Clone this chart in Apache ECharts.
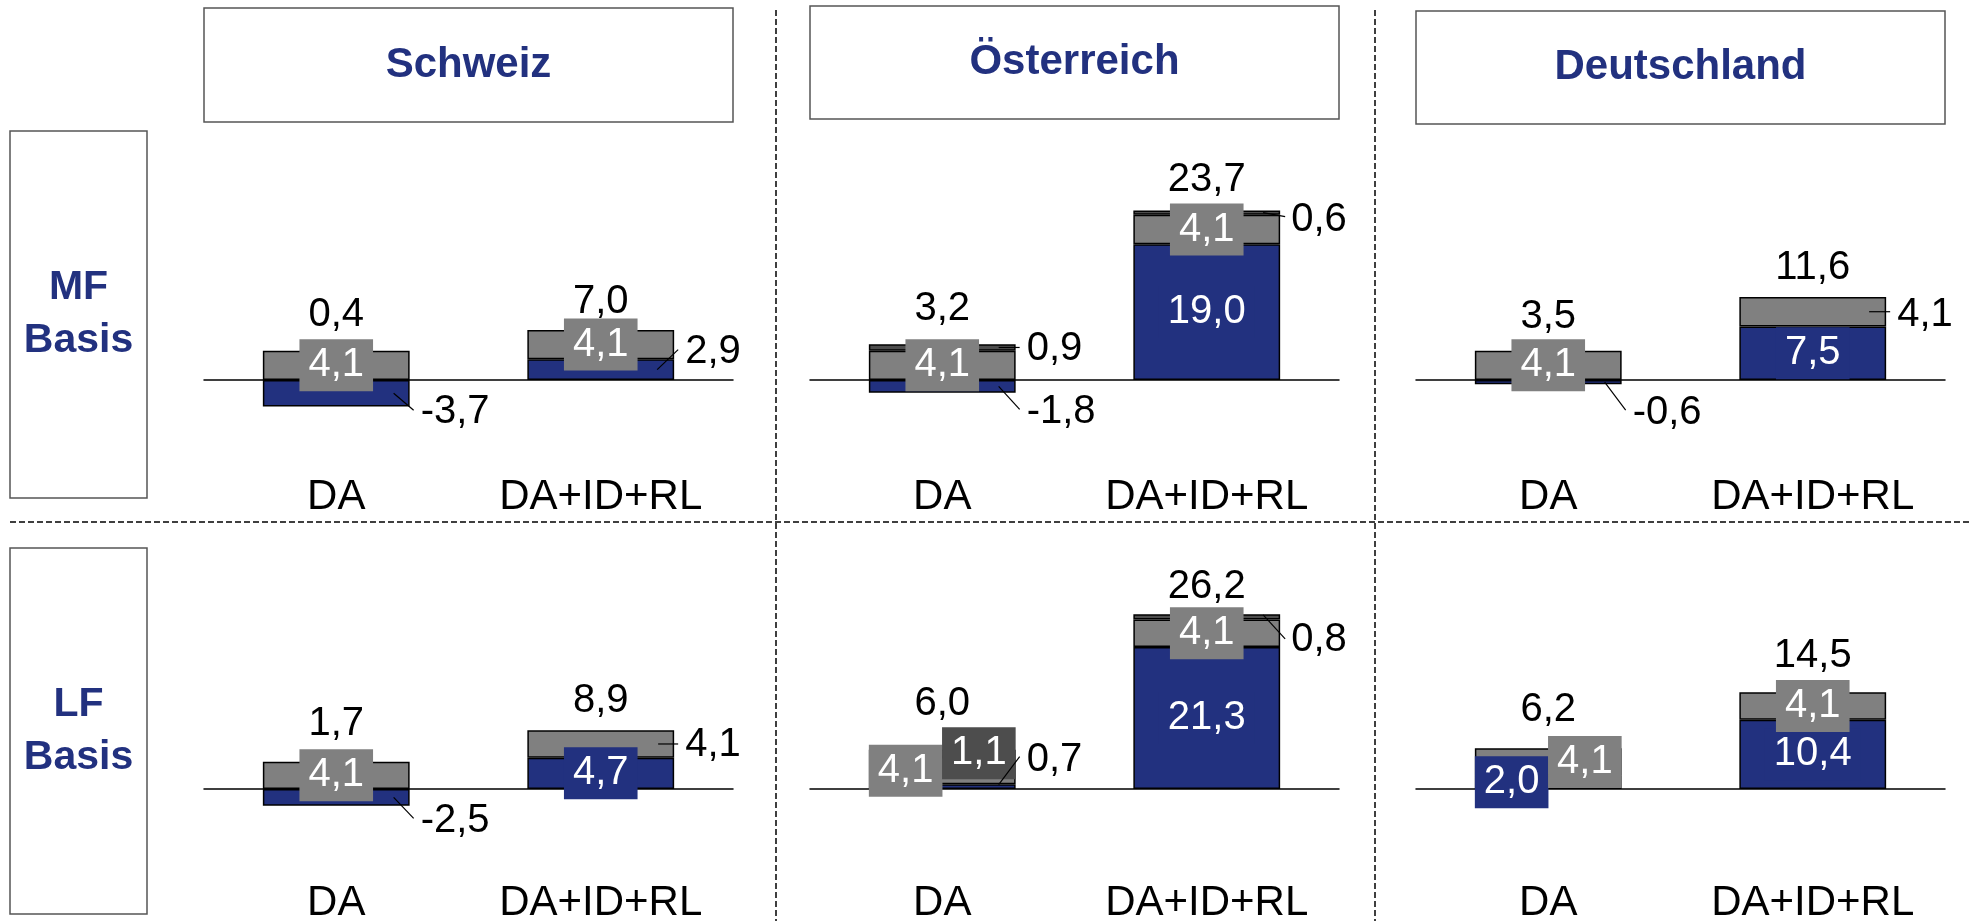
<!DOCTYPE html>
<html><head><meta charset="utf-8">
<script src="https://cdn.jsdelivr.net/npm/echarts@6/dist/echarts.min.js"></script>
<style>html,body{margin:0;padding:0;background:#fff}#c{width:1970px;height:921px}</style>
</head><body><div id="c"></div>
<script>
// ---------- data ----------
const categories = ['DA', 'DA+ID+RL'];
const countries = ['Schweiz', 'Österreich', 'Deutschland'];
const rowLabels = ['MF\nBasis', 'LF\nBasis'];
// panel order: MF Schweiz, MF Österreich, MF Deutschland, LF Schweiz, LF Österreich, LF Deutschland
const blueValues = [[-3.7, 2.9], [-1.8, 19.0], [-0.6, 7.5], [-2.5, 4.7], [0.7, 21.3], [2.0, 10.4]];
const grayValues = [[4.1, 4.1], [4.1, 4.1], [4.1, 4.1], [4.1, 4.1], [4.1, 4.1], [4.1, 4.1]];
const darkValues = [[null, null], [0.9, 0.6], [null, null], [null, null], [1.1, 0.8], [null, null]];
const totalValues = [[0.4, 7.0], [3.2, 23.7], [3.5, 11.6], [1.7, 8.9], [6.0, 26.2], [6.2, 14.5]];

// ---------- label placement (style/layout, not data) ----------
const bluePlace = [['out', 'out'], ['out', 'in'], ['out', 'in'], ['out', 'in'], ['out', 'in'], ['inL', 'in']];
const grayPlace = [['in', 'in'], ['in', 'in'], ['in', 'out'], ['in', 'out'], ['inL', 'in'], ['inR', 'in']];
const darkPlace = [[null, null], ['out', 'out'], [null, null], [null, null], ['inR', 'out'], [null, null]];
const leaderLayout = {
  '0-blue-0': { l: [-16, 0, 4, 17], t: [11, 19] },
  '0-blue-1': { l: [-17, 0, 4, -20], t: [11, -18] },
  '1-blue-0': { l: [-17, 0, 4, 23], t: [11, 26] },
  '1-dark-0': { l: [-17, 0, 4, 0], t: [11, 2] },
  '1-dark-1': { l: [-17, 0, 5, 4], t: [11, 7] },
  '2-blue-0': { l: [-17, 0, 4, 28], t: [11, 31] },
  '2-gray-1': { l: [-17, 0, 4, 0], t: [11, 3] },
  '3-blue-0': { l: [-16, 0, 4, 21], t: [11, 24] },
  '3-gray-1': { l: [-16, 0, 4, 0], t: [11, 1] },
  '4-blue-0': { l: [-17, -2, 4, -30], t: [11, -27] },
  '4-dark-1': { l: [-17, -2, 5, 22], t: [11, 23] }
};
const totalGap = [[36, 28], [35, 31], [34, 29], [38, 29], [46, 27], [38, 36]];

const FONT = '"Liberation Sans", Arial, sans-serif';
const NUM_SIZE = 40, CAT_SIZE = 42;
const NAVY = '#22317F';
const C_BLUE = '#22317F', C_GRAY = '#808080', C_DARK = '#4D4D4D';
const colLeft = [204, 810, 1416], colWidth = 529;
const rowZeroY = [380, 789], rowPxPerUnit = [7.15, 6.67];
const Y_MIN = -10, Y_MAX = 35;
const catLabelCenterY = [497, 903];
const BAR_FRAC = 0.555;
const headerBoxes = [[204, 8, 529, 114], [810, 6, 529, 113], [1416, 11, 529, 113]];
const rowBoxes = [[10, 131, 137, 367], [10, 548, 137, 366]];

const fmt = v => v.toFixed(1).replace('.', ',');

function labelFor(pl, color) {
  if (!pl || pl === 'out') return { show: false };
  const base = {
    show: true, color: '#fff', fontSize: NUM_SIZE, fontFamily: FONT, lineHeight: 40,
    backgroundColor: color, padding: [6, 9], textBorderWidth: 0,
    formatter: p => fmt(p.value)
  };
  if (pl === 'in') return Object.assign(base, { position: 'inside' });
  if (pl === 'inL') return Object.assign(base, { position: ['0%', '50%'], align: 'left', verticalAlign: 'middle' });
  return Object.assign(base, { position: ['100%', '50%'], align: 'right', verticalAlign: 'middle' });
}

const grids = [], xAxes = [], yAxes = [], series = [];
for (let p = 0; p < 6; p++) {
  const r = Math.floor(p / 3), c = p % 3;
  const ppu = rowPxPerUnit[r];
  const gTop = rowZeroY[r] - Y_MAX * ppu, gH = (Y_MAX - Y_MIN) * ppu;
  grids.push({ left: colLeft[c], width: colWidth, top: gTop, height: gH, containLabel: false, outerBoundsMode: 'none' });
  xAxes.push({
    type: 'category', gridIndex: p, data: categories,
    axisLine: { onZero: true, lineStyle: { color: '#000', width: 1.5 } },
    axisTick: { show: false }, splitLine: { show: false },
    axisLabel: { color: '#000', fontSize: CAT_SIZE, fontFamily: FONT, lineHeight: 40,
      margin: catLabelCenterY[r] - (gTop + gH) - 20 }
  });
  yAxes.push({ type: 'value', gridIndex: p, min: Y_MIN, max: Y_MAX, show: false });

  const defs = [['blue', blueValues[p], bluePlace[p], C_BLUE], ['gray', grayValues[p], grayPlace[p], C_GRAY], ['dark', darkValues[p], darkPlace[p], C_DARK]];
  defs.forEach(([key, vals, place, color]) => {
    series.push({
      type: 'bar', name: key, xAxisIndex: p, yAxisIndex: p, stack: 's' + p, barWidth: (BAR_FRAC * 100) + '%',
      silent: true,
      itemStyle: { color: color, borderColor: '#000', borderWidth: 1.5 },
      data: vals.map((v, i) => v == null ? '-' : { value: v, label: labelFor(place[i], color) })
    });
  });

  // outside labels with leader lines
  const outs = [];
  for (let i = 0; i < 2; i++) {
    const b = blueValues[p][i], g = grayValues[p][i], d = darkValues[p][i];
    const pos = Math.max(b, 0);
    if (bluePlace[p][i] === 'out') outs.push({ v: [i, b / 2, b], key: p + '-blue-' + i });
    if (grayPlace[p][i] === 'out') outs.push({ v: [i, pos + g / 2, g], key: p + '-gray-' + i });
    if (d != null && darkPlace[p][i] === 'out') outs.push({ v: [i, pos + g + d / 2, d], key: p + '-dark-' + i });
  }
  series.push({
    type: 'custom', xAxisIndex: p, yAxisIndex: p, silent: true, z: 5,
    data: outs.map(o => o.v),
    renderItem: (params, api) => {
      const L = leaderLayout[outs[params.dataIndex].key];
      const pt = api.coord([api.value(0), api.value(1)]);
      const band = api.coord([1, 0])[0] - api.coord([0, 0])[0];
      const rx = pt[0] + band * BAR_FRAC / 2;
      return {
        type: 'group', children: [
          { type: 'line', shape: { x1: rx + L.l[0], y1: pt[1] + L.l[1], x2: rx + L.l[2], y2: pt[1] + L.l[3] }, style: { stroke: '#000', lineWidth: 1.2 } },
          { type: 'text', x: rx + L.t[0], y: pt[1] + L.t[1], style: { text: fmt(api.value(2)), fill: '#000', fontSize: NUM_SIZE, fontFamily: FONT, align: 'left', verticalAlign: 'middle' } }
        ]
      };
    }
  });

  // totals above the stack
  const tots = [0, 1].map(i => {
    const top = Math.max(blueValues[p][i], 0) + grayValues[p][i] + (darkValues[p][i] || 0);
    return [i, top, totalValues[p][i]];
  });
  series.push({
    type: 'custom', xAxisIndex: p, yAxisIndex: p, silent: true, z: 5,
    data: tots,
    renderItem: (params, api) => {
      const pt = api.coord([api.value(0), api.value(1)]);
      return { type: 'text', x: pt[0], y: pt[1] - totalGap[p][params.dataIndex],
        style: { text: fmt(api.value(2)), fill: '#000', fontSize: NUM_SIZE, fontFamily: FONT, align: 'center', verticalAlign: 'middle' } };
    }
  });
}

const graphics = [];
headerBoxes.forEach((b, i) => {
  graphics.push({ type: 'rect', shape: { x: b[0], y: b[1], width: b[2], height: b[3] }, style: { fill: '#fff', stroke: '#555', lineWidth: 1.5 } });
  graphics.push({ type: 'text', x: b[0] + b[2] / 2, y: b[1] + b[3] / 2, style: { text: countries[i], fill: NAVY, fontSize: 42, fontWeight: 'bold', fontFamily: FONT, align: 'center', verticalAlign: 'middle' } });
});
rowBoxes.forEach((b, i) => {
  graphics.push({ type: 'rect', shape: { x: b[0], y: b[1], width: b[2], height: b[3] }, style: { fill: '#fff', stroke: '#555', lineWidth: 1.5 } });
  graphics.push({ type: 'text', x: b[0] + b[2] / 2, y: b[1] + b[3] / 2, style: { text: rowLabels[i], fill: NAVY, fontSize: 41, fontWeight: 'bold', fontFamily: FONT, lineHeight: 53, align: 'center', verticalAlign: 'middle' } });
});
[[776, 10, 776, 921], [1375, 10, 1375, 921], [10, 522, 1970, 522]].forEach(s => {
  graphics.push({ type: 'line', shape: { x1: s[0], y1: s[1], x2: s[2], y2: s[3] }, style: { stroke: '#000', lineWidth: 1.5, lineDash: [6, 3] } });
});

const chart = echarts.init(document.getElementById('c'), null, { renderer: 'canvas' });
chart.setOption({
  animation: false,
  backgroundColor: '#fff',
  grid: grids, xAxis: xAxes, yAxis: yAxes, series: series,
  graphic: { elements: graphics }
});
</script>
</body></html>
